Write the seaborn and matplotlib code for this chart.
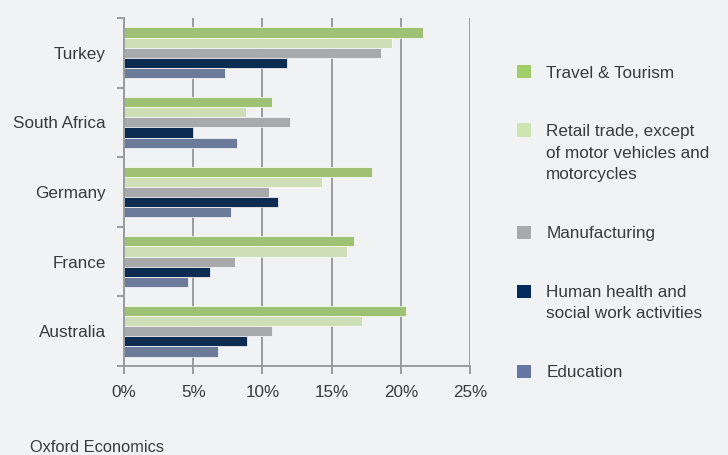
import pandas as pd
import matplotlib
matplotlib.use("Agg")
import matplotlib.pyplot as plt
import matplotlib.patches as mpatches
from matplotlib.legend_handler import HandlerPatch
from matplotlib.ticker import FixedLocator, FuncFormatter
import seaborn as sns

# Data (% share)
countries = ["Turkey", "South Africa", "Germany", "France", "Australia"]
sectors = [
    "Travel & Tourism",
    "Retail trade, except\nof motor vehicles and\nmotorcycles",
    "Manufacturing",
    "Human health and\nsocial work activities",
    "Education",
]
travel_tourism = [21.6, 10.7, 17.9, 16.6, 20.4]
retail_trade = [19.4, 8.8, 14.3, 16.1, 17.2]
manufacturing = [18.6, 12.0, 10.5, 8.0, 10.7]
human_health = [11.8, 5.0, 11.1, 6.2, 8.9]
education = [7.3, 8.2, 7.7, 4.6, 6.8]
colors = ["#A0CE67", "#CFE5B0", "#A7A9AC", "#002B5C", "#6578A3"]
xticks = [0, 5, 10, 15, 20, 25]

series = [travel_tourism, retail_trade, manufacturing, human_health, education]
rows = []
for sector, vals in zip(sectors, series):
    for c, v in zip(countries, vals):
        rows.append({"country": c, "sector": sector, "value": v})
df = pd.DataFrame(rows)

bg = "#F1F2F4"
grey = "#9B9B9B"
txt = "#3A3A3A"
fs = 12.3
line_sp = 1.54

sns.set_style("white")
plt.rcParams["font.family"] = ["Liberation Sans", "DejaVu Sans"]
plt.rcParams["font.size"] = fs

fig = plt.figure(figsize=(7.28, 4.55), dpi=100, facecolor=bg)
ax = fig.add_axes([124 / 728, 1 - 366 / 455, 346 / 728, 348 / 455])
ax.set_facecolor(bg)

sns.barplot(data=df, y="country", x="value", hue="sector", order=countries,
            hue_order=sectors, palette=colors, orient="h", width=0.73,
            edgecolor="#FFFFFF", linewidth=0.5, legend=False, ax=ax)

ax.set_xlim(0, 25)
ax.set_ylim(len(countries) - 0.5, -0.5)
ax.set_xlabel("")
ax.set_ylabel("")

# x axis
ax.xaxis.set_major_locator(FixedLocator(xticks))
ax.xaxis.set_major_formatter(FuncFormatter(lambda v, p: f"{v:.0f}%"))
ax.grid(axis="x", color=grey, linewidth=1.4)
ax.set_axisbelow(True)
ax.tick_params(axis="x", direction="out", length=6, width=1.4, color=grey,
               pad=8, labelcolor=txt, labelsize=fs, bottom=True)

# y axis: labels centred, ticks at category boundaries
ax.tick_params(axis="y", which="major", length=0, pad=13, labelcolor=txt,
               labelsize=fs)
ax.yaxis.set_minor_locator(FixedLocator([i - 0.5 for i in range(len(countries) + 1)]))
ax.tick_params(axis="y", which="minor", left=True, direction="out", length=5,
               width=1.4, color=grey)

for s in ["top", "right"]:
    ax.spines[s].set_visible(False)
for s in ["left", "bottom"]:
    ax.spines[s].set_color(grey)
    ax.spines[s].set_linewidth(1.4)


# legend: square aligned with the first line of each label
def make_square(legend, orig_handle, xdescent, ydescent, width, height, fontsize):
    n = orig_handle.get_label().count("\n")
    shift = n * 0.5 * 0.88 * fontsize * line_sp
    return mpatches.Rectangle((-xdescent, -ydescent + shift), width, height)


handles = [mpatches.Patch(facecolor=c, edgecolor="none", label=s)
           for c, s in zip(colors, sectors)]
leg = fig.legend(handles=handles, loc="upper left",
                 bbox_to_anchor=(517 / 728, 1 - 65 / 455), frameon=False,
                 borderpad=0, borderaxespad=0, handlelength=0.82,
                 handleheight=0.82, handletextpad=0.9, labelspacing=2.55,
                 fontsize=fs, labelcolor=txt,
                 handler_map={mpatches.Patch: HandlerPatch(patch_func=make_square)})
for t in leg.get_texts():
    t.set_linespacing(line_sp)

fig.text(30 / 728, 1 - 447 / 455, "Oxford Economics", fontsize=11.8, color=txt,
         va="center", ha="left")

fig.savefig("out.png", dpi=100, facecolor=bg)
